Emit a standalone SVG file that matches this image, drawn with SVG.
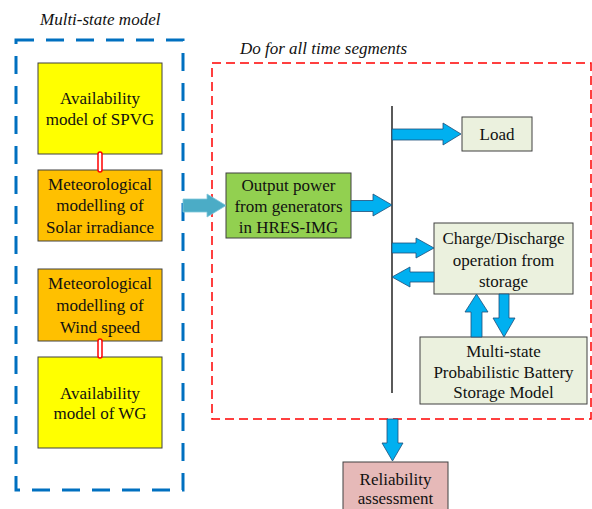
<svg xmlns="http://www.w3.org/2000/svg" width="592" height="509" viewBox="0 0 592 509" font-family="'Liberation Serif', Tinos, 'Times New Roman', Times, 'DejaVu Serif', serif">
<style>
text{font-family:'Liberation Serif', Tinos, 'Times New Roman', Times, 'DejaVu Serif', serif;font-size:17px;fill:#111;text-anchor:middle}
.it{font-style:italic;text-anchor:start}
.box{stroke:#404040;stroke-width:1}
.yel{fill:#FFFF00}
.org{fill:#FFC000}
.grn{fill:#92D050}
.lt{fill:#EBF1DE}
.pk{fill:#E6B9B8}
.arr{fill:#00B0F0;stroke:#1F4E79;stroke-width:0.8}
.link{fill:#fff;stroke:#FF0000;stroke-width:1.5}
</style>
<rect width="592" height="509" fill="#fff"/>
<g id="multi-state-frame">
<rect x="16" y="40" width="167" height="450" fill="none" stroke="#0070C0" stroke-width="3" stroke-dasharray="18,12"/>
<text class="it" x="40" y="25">Multi-state model</text>
</g>
<g id="time-segment-frame">
<rect x="212" y="63" width="379" height="356" fill="none" stroke="#FF0000" stroke-width="1.5" stroke-dasharray="9,5"/>
<text class="it" x="240" y="54">Do for all time segments</text>
</g>
<g id="avail-spvg">
<rect class="box yel" x="38" y="63" width="124" height="91"/>
<text x="100" y="104">Availability</text>
<text x="100" y="124.5">model of SPVG</text>
</g>
<g id="met-solar">
<rect class="box org" x="38" y="170" width="124" height="71"/>
<text x="100" y="190">Meteorological</text>
<text x="100" y="211">modelling of</text>
<text x="100" y="233">Solar irradiance</text>
</g>
<g id="met-wind">
<rect class="box org" x="38" y="269" width="124" height="72"/>
<text x="100" y="289">Meteorological</text>
<text x="100" y="311">modelling of</text>
<text x="100" y="333">Wind speed</text>
</g>
<g id="avail-wg">
<rect class="box yel" x="38" y="357" width="124" height="91"/>
<text x="100" y="399">Availability</text>
<text x="100" y="419">model of WG</text>
</g>
<g id="output-power">
<rect class="box grn" x="226" y="173" width="125" height="65"/>
<text x="288.5" y="191">Output power</text>
<text x="288.5" y="212">from generators</text>
<text x="288.5" y="233">in HRES-IMG</text>
</g>
<g id="load">
<rect class="box lt" x="462" y="117" width="70" height="34"/>
<text x="497" y="140">Load</text>
</g>
<g id="charge-discharge">
<rect class="box lt" x="434" y="223" width="139" height="71"/>
<text x="503.5" y="244">Charge/Discharge</text>
<text x="503.5" y="266">operation from</text>
<text x="503.5" y="287">storage</text>
</g>
<g id="battery-model">
<rect class="box lt" x="420" y="337" width="167" height="67"/>
<text x="503.5" y="357">Multi-state</text>
<text x="503.5" y="378">Probabilistic Battery</text>
<text x="503.5" y="398">Storage Model</text>
</g>
<g id="reliability">
<rect class="box pk" x="343" y="462" width="105" height="60"/>
<text x="395.5" y="485">Reliability</text>
<text x="395.5" y="504">assessment</text>
</g>
<g id="connectors">
<rect class="link" x="98" y="152" width="4" height="20" rx="2"/>
<rect class="link" x="98" y="339" width="4" height="19" rx="2"/>
<line x1="392" y1="106" x2="392" y2="393" stroke="#000" stroke-width="1.3"/>
<polygon points="183,199 207,199 207,194 226,205.5 207,217 207,212 183,212" fill="#4BACC6" stroke="#7FC6DA" stroke-width="0.8"/>
<polygon class="arr" points="392,129 443,129 443,123 461,134 443,145 443,140 392,140"/>
<polygon class="arr" points="351,200.5 373,200.5 373,194 392,205 373,216 373,211.5 351,211.5"/>
<polygon class="arr" points="392,243 416,243 416,238 434,248 416,258 416,253 392,253"/>
<polygon class="arr" points="434,272 410,272 410,267 392,277 410,287 410,282 434,282"/>
<polygon class="arr" points="471,337 471,312 465,312 476.5,294 488,312 482,312 482,337"/>
<polygon class="arr" points="499,294 499,318 493,318 504,337 515,318 509,318 509,294"/>
<polygon class="arr" points="387,419 387,443 382,443 392.5,461 403,443 398,443 398,419"/>
</g>
</svg>
